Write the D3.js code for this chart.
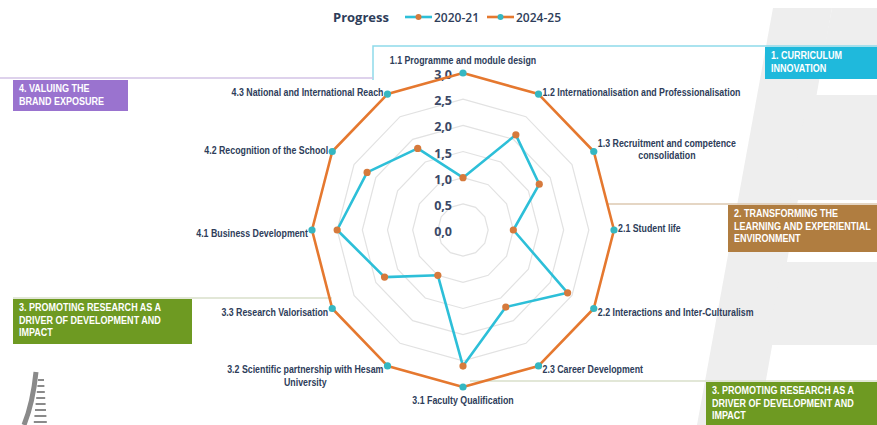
<!DOCTYPE html>
<html>
<head>
<meta charset="utf-8">
<script src="https://cdn.jsdelivr.net/npm/d3@7"></script>
<style>
  body { margin: 0; background: #fff; }
  svg { display: block; }
</style>
</head>
<body>
<svg id="radar_svg" width="877" height="425"></svg>
<script>
// axes of the radar, clockwise from the top
const axes = [
  "1.1 Programme and module design",
  "1.2 Internationalisation and Professionalisation",
  "1.3  Recruitment and competence\nconsolidation",
  "2.1 Student life",
  "2.2 Interactions and Inter-Culturalism",
  "2.3 Career Development",
  "3.1 Faculty Qualification",
  "3.2 Scientific partnership with Hesam\nUniversity",
  "3.3 Research Valorisation",
  "4.1 Business Development",
  "4.2 Recognition of the School",
  "4.3 National and International Reach",
]
const values_2020 = [1.0, 2.1, 1.75, 1.0, 2.4, 1.7, 2.6, 1.0, 1.8, 2.5, 2.2, 1.8]
const values_2024 = [3, 3, 3, 3, 3, 3, 3, 3, 3, 3, 3, 3]
const series_names = ["2020-21", "2024-25"]
const ticks = [0, 0.5, 1, 1.5, 2, 2.5, 3]
const legend_title = "Progress"

const pillars = [
  ["1.  CURRICULUM", "INNOVATION"],
  ["4. VALUING THE", "BRAND EXPOSURE"],
  ["2. TRANSFORMING THE", "LEARNING AND EXPERIENTIAL", "ENVIRONMENT"],
  ["3. PROMOTING RESEARCH AS A", "DRIVER OF DEVELOPMENT AND", "IMPACT"],
  ["3. PROMOTING RESEARCH AS A", "DRIVER OF DEVELOPMENT AND", "IMPACT"],
]

const blue = "#2dbfd8"
const orange = "#e5782f"
const dot_orange = "#d67a3c"
const dot_teal = "#35b7c2"
const navy = "#2e3d5a"
const label_font = "'Liberation Sans', Arial, sans-serif"
const squeeze = 0.84 // the original uses a condensed face

let svg = d3.select("#radar_svg")

// ---- watermark in the background
let wm = svg.append("g").attr("fill", "#eeeeee")
wm.append("path").attr("d", "M697,425 L773,8 L832,8 L758,425 Z")
wm.append("path").attr("d", "M832,8 L877,8 L877,60 L822,60 Z")
wm.append("path").attr("d", "M808,95 L877,95 L877,200 L790,200 Z")
wm.append("path").attr("d", "M783,262 L877,262 L877,345 L766,345 Z")

// small logo bottom left
let logo = svg.append("g").attr("stroke", "#8a8a8a").attr("fill", "none")
logo.append("path").attr("d", "M36,372 C34,392 30,410 24,425").attr("stroke-width", 5)
d3.range(8).forEach((i) => {
  let y = 380 + i * 6
  logo.append("line")
    .attr("x1", 38 - i * 0.6).attr("x2", 44 + i * 0.4)
    .attr("y1", y).attr("y2", y)
    .attr("stroke-width", 2)
})

// ---- category boxes and connector lines
const connectors = [
  { d: "M373,80 L373,46 L877,46", c: "#8fdaea" },
  { d: "M0,78 L373,78", c: "#d3c3e6" },
  { d: "M608,204 L877,204", c: "#dcc8b0" },
  { d: "M13,298 L332,298", c: "#d9dfca" },
  { d: "M470,381 L877,381", c: "#d9dfca" },
]
svg.append("g").selectAll("path").data(connectors).join("path")
  .attr("d", (d) => d.d)
  .attr("fill", "none")
  .attr("stroke", (d) => d.c)
  .attr("stroke-width", 1.5)

const box_geom = [
  { x: 765, y: 47, w: 112, h: 32, c: "#1fb9dc" },
  { x: 13, y: 80, w: 115, h: 31, c: "#9a73cf" },
  { x: 728, y: 205, w: 149, h: 47, c: "#b07d40" },
  { x: 13, y: 299, w: 179, h: 45, c: "#6e9a22" },
  { x: 706, y: 382, w: 171, h: 43, c: "#6e9a22" },
]
let boxes = svg.append("g").selectAll("g").data(pillars).join("g")
  .attr("transform", (d, i) => `translate(${box_geom[i].x},${box_geom[i].y})`)
boxes.append("rect")
  .attr("width", (d, i) => box_geom[i].w)
  .attr("height", (d, i) => box_geom[i].h)
  .attr("fill", (d, i) => box_geom[i].c)
boxes.each(function (d) {
  let t = d3.select(this).append("g")
    .attr("transform", `translate(6,0) scale(0.82,1)`)
    .append("text")
    .attr("fill", "#fff")
    .attr("font-family", label_font)
    .attr("font-weight", "bold")
    .attr("font-size", 11)
  d.forEach((line, j) => {
    t.append("tspan").attr("x", 0).attr("y", 12.5 + j * 12.5).text(line)
  })
})

// ---- radar
const cx = 463, cy = 230
const x_stretch = 151 / 157
const rScale = d3.scaleLinear().domain([0, 3]).range([0, 157])
const angle = d3.scaleLinear().domain([0, axes.length]).range([0, 2 * Math.PI])

function pt(i, v) {
  let a = angle(i)
  return [cx + Math.sin(a) * rScale(v) * x_stretch, cy - Math.cos(a) * rScale(v)]
}

let g = svg.append("g")

// grid rings
g.selectAll(".ring").data(ticks.filter((t) => t > 0 && t < 3)).join("path")
  .attr("class", "ring")
  .attr("d", (t) => d3.line()(axes.map((a, i) => pt(i, t))) + "Z")
  .attr("fill", "none")
  .attr("stroke", "#e2e2e2")
  .attr("stroke-width", 1.2)

// tick labels
g.selectAll(".tick_lbl").data(ticks).join("text")
  .attr("class", "tick_lbl")
  .attr("x", cx - 11)
  .attr("y", (t) => cy - rScale(t) + 6)
  .attr("text-anchor", "end")
  .attr("font-family", "'Open Sans', sans-serif")
  .attr("font-weight", "bold")
  .attr("font-size", 12.5)
  .attr("fill", "#3b4866")
  .text((t) => d3.format(".1f")(t).replace(".", ","))

const series = [
  { name: series_names[0], values: values_2020, line: blue, dot: dot_orange },
  { name: series_names[1], values: values_2024, line: orange, dot: dot_teal },
]

series.forEach((s) => {
  let pts = s.values.map((v, i) => pt(i, v))
  g.append("path")
    .attr("d", d3.line()(pts) + "Z")
    .attr("fill", "none")
    .attr("stroke", s.line)
    .attr("stroke-width", 2.6)
    .attr("stroke-linejoin", "round")
  g.selectAll(null).data(pts).join("circle")
    .attr("cx", (d) => d[0])
    .attr("cy", (d) => d[1])
    .attr("r", 3.6)
    .attr("fill", s.dot)
})

// axis labels (condensed with a horizontal squeeze)
let labels = g.selectAll(".axis_lbl").data(axes).join("g")
  .attr("class", "axis_lbl")

labels.each(function (d, i) {
  let lines = d.split("\n")
  let a = angle(i)
  let s = Math.sin(a), c = Math.cos(a)
  let p = pt(i, 3)
  let inner = d3.select(this).append("g")
  let t = inner.append("text")
    .attr("font-family", label_font)
    .attr("font-weight", "bold")
    .attr("font-size", 10.5)
    .attr("fill", navy)
  let spans = lines.map((l) => t.append("tspan").text(l))
  let w = d3.max(spans.map((sp) => sp.node().getComputedTextLength()))
  let ws = w * squeeze
  let x0, y0
  if (Math.abs(s) < 0.01) {
    x0 = p[0] - ws / 2
    y0 = c > 0 ? p[1] - 9 : p[1] + 17
  } else {
    x0 = s > 0 ? p[0] + 4 : p[0] - 4 - ws
    y0 = p[1] + 4 - (c > 0 && lines.length > 1 ? 7 : 0) + (c < 0 ? 3 : -2)
  }
  spans.forEach((sp, j) => {
    sp.attr("x", w / 2).attr("y", j * 13).attr("text-anchor", "middle")
  })
  inner.attr("transform", `translate(${x0},${y0}) scale(${squeeze},1)`)
})

// ---- legend
let legend = svg.append("g").attr("font-family", "'Open Sans', sans-serif").attr("fill", navy)
legend.append("text")
  .attr("x", 333).attr("y", 22)
  .attr("font-size", 13).attr("font-weight", "bold")
  .text(legend_title)
let li = legend.selectAll(".legend_item").data(series).join("g")
  .attr("class", "legend_item")
  .attr("transform", (d, i) => `translate(${405 + i * 82},0)`)
li.append("line")
  .attr("x1", 0).attr("x2", 27).attr("y1", 17).attr("y2", 17)
  .attr("stroke", (d) => d.line).attr("stroke-width", 2.6)
li.append("circle")
  .attr("cx", 13.5).attr("cy", 17).attr("r", 3)
  .attr("fill", (d) => d.dot)
li.append("text")
  .attr("x", 29).attr("y", 22)
  .attr("font-size", 12).attr("font-weight", 600)
  .text((d) => d.name)
</script>
</body>
</html>
